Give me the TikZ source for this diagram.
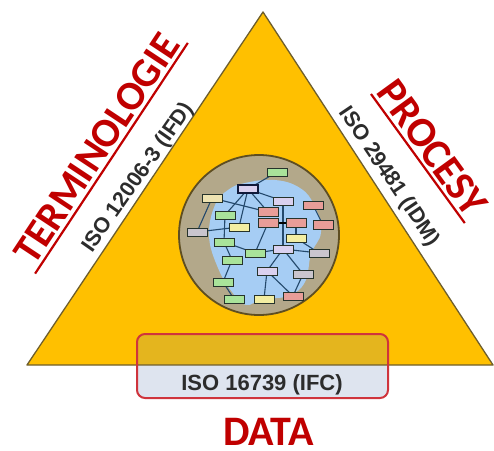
\documentclass[tikz,border=0pt]{standalone}
\usepackage{fontspec}
\newfontfamily\calib{Carlito}
\newfontfamily\arialf{Liberation Sans}
\definecolor{gold}{HTML}{FFC000}
\definecolor{goldd}{HTML}{E4B51E}
\definecolor{barblue}{HTML}{DEE4EF}
\definecolor{tborder}{HTML}{6E5E2C}
\definecolor{redbox}{HTML}{CF343C}
\definecolor{redt}{HTML}{C00000}
\definecolor{isot}{HTML}{2C2C2C}
\definecolor{disctan}{HTML}{B3A88A}
\definecolor{discline}{HTML}{5E4E22}
\definecolor{blobc}{HTML}{A6CDF4}
\definecolor{linkc}{HTML}{24496C}
\definecolor{boxline}{HTML}{26332B}
\definecolor{cgreen}{HTML}{A9E39A}
\definecolor{cyellow}{HTML}{F3EEA2}
\definecolor{ccream}{HTML}{EEE3B2}
\definecolor{clav}{HTML}{DAD1EF}
\definecolor{cred}{HTML}{E89D98}
\definecolor{cgray}{HTML}{C9C5CD}
\definecolor{cnavy}{HTML}{111A3A}
\begin{document}
\begin{tikzpicture}[x=1pt,y={(0pt,-1pt)},
  box/.style={draw=boxline, line width=0.9pt, minimum width=20pt, minimum height=8pt, inner sep=0pt, outer sep=0pt},
  link/.style={draw=linkc, line width=1.1pt},
  bigred/.style={font=\calib\bfseries\fontsize{42}{42}\selectfont, text=redt, anchor=base},
  isolabel/.style={font=\arialf\bfseries\fontsize{22}{22}\selectfont, text=isot, anchor=base, inner sep=0pt},
  uline/.style={draw=redt, line width=2.2pt}]
\useasboundingbox (0,0) rectangle (494,450);
\fill[white] (0,0) rectangle (494,450);
\coordinate (tl) at (27,365);
\coordinate (tt) at (263,12);
\coordinate (tr) at (493,365);
\fill[gold] (tl) -- (tt) -- (tr) -- cycle;
% IFC bar
\fill[barblue, rounded corners=8pt] (137,334) rectangle (388,398);
\begin{scope}
\clip[rounded corners=8pt] (137,334) rectangle (388,398);
\fill[goldd] (137,334) rectangle (388,365);
\end{scope}
\draw[tborder, line width=1.3pt, line join=round] (tl) -- (tt) -- (tr) -- cycle;
\draw[redbox, line width=2pt, rounded corners=8pt] (137,334) rectangle (388,398);
% disc
\node[circle, draw=discline, fill=disctan, line width=1.8pt, minimum size=160pt, inner sep=0pt] (disc) at (259,235) {};
\fill[blobc] plot[smooth cycle, tension=0.7] coordinates {(245,183) (275,180) (300,188) (314,205) (321,232) (311,254) (305,282) (288,296) (262,299) (246,305) (232,292) (218,268) (209,236) (215,205) (228,190)};
% boxes (positions)
\coordinate (p1) at (277,172);
\coordinate (p2) at (248,189);
\coordinate (p3) at (212,198);
\coordinate (p4) at (283,201);
\coordinate (p5) at (313,205);
\coordinate (p6) at (268,212);
\coordinate (p7) at (225,215);
\coordinate (p8) at (268,223);
\coordinate (p9) at (296,223);
\coordinate (p10) at (323,225);
\coordinate (p11) at (239,227);
\coordinate (p12) at (197,232);
\coordinate (p13) at (296,238);
\coordinate (p14) at (224,242);
\coordinate (p15) at (255,253);
\coordinate (p16) at (283,249);
\coordinate (p17) at (319,253);
\coordinate (p18) at (232,260);
\coordinate (p19) at (267,271);
\coordinate (p20) at (303,274);
\coordinate (p21) at (223,282);
\coordinate (p22) at (234,299);
\coordinate (p23) at (264,299);
\coordinate (p24) at (293,296);
% links
\draw[link] (p2) -- (p1);
\draw[link] (p2) -- (p7);
\draw[link] (p2) -- (p11);
\draw[link] (p2) -- (p4);
\draw[link] (p2) -- (p6);
\draw[link] (p3) -- (p6);
\draw[link] (p3) -- (p12);
\draw[link] (p12) -- (p11);
\draw[link] (p7) -- (p14);
\draw[link] (p14) -- (p18);
\draw[link] (p18) -- (p21);
\draw[link] (p21) -- (p22);
\draw[link] (p4) -- (p16);
\draw[link] (p5) -- (p10);
\draw[link] (p8) -- (p15);
\draw[link] (p14) -- (p15);
\draw[link] (p15) -- (p16);
\draw[link] (p16) -- (p17);
\draw[link] (p16) -- (p19);
\draw[link] (p16) -- (p20);
\draw[link] (p19) -- (p23);
\draw[link] (p19) -- (p24);
\draw[link] (p20) -- (p24);
\draw[link] (p9) -- (p13);
\draw[link] (p13) -- (p17);
\draw[line width=1.6pt, black] (p8) -- (p9);
% boxes
\node[box, fill=cgreen] (b1) at (p1) {};
\node[box, fill=clav, draw=cnavy, line width=2pt] (b2) at (p2) {};
\node[box, fill=ccream] (b3) at (p3) {};
\node[box, fill=clav] (b4) at (p4) {};
\node[box, fill=cred] (b5) at (p5) {};
\node[box, fill=cred, minimum height=9pt] (b6) at (p6) {};
\node[box, fill=cgreen] (b7) at (p7) {};
\node[box, fill=cred, minimum height=9pt] (b8) at (p8) {};
\node[box, fill=cred, minimum height=9pt] (b9) at (p9) {};
\node[box, fill=cred, minimum height=9pt] (b10) at (p10) {};
\node[box, fill=cyellow] (b11) at (p11) {};
\node[box, fill=cgray] (b12) at (p12) {};
\node[box, fill=cyellow] (b13) at (p13) {};
\node[box, fill=cgreen] (b14) at (p14) {};
\node[box, fill=cgreen] (b15) at (p15) {};
\node[box, fill=clav] (b16) at (p16) {};
\node[box, fill=cgray] (b17) at (p17) {};
\node[box, fill=cgreen] (b18) at (p18) {};
\node[box, fill=clav] (b19) at (p19) {};
\node[box, fill=cgray] (b20) at (p20) {};
\node[box, fill=cgreen] (b21) at (p21) {};
\node[box, fill=cgreen] (b22) at (p22) {};
\node[box, fill=cyellow] (b23) at (p23) {};
\node[box, fill=cred] (b24) at (p24) {};
% labels
\node[bigred, font=\calib\bfseries\fontsize{41}{41}\selectfont, rotate=56.5, inner xsep=5pt, inner ysep=4pt] (term) at (107.7,155.8) {TERMINOLOGIE};
\draw[uline] (term.south west) -- (term.south east);
\node[bigred, rotate=-54, inner xsep=1pt, inner ysep=4pt] (proc) at (421.5,155.9) {PROCESY};
\draw[uline] (proc.south west) -- (proc.south east);
\node[bigred] (data) at (268.5,445) {DATA};
\node[isolabel, rotate=55, font=\arialf\bfseries\fontsize{21.5}{21.5}\selectfont] (ifd) at (143,181) {ISO 12006-3 (IFD)};
\node[isolabel, rotate=-56, font=\arialf\bfseries\fontsize{21.5}{21.5}\selectfont] (idm) at (384.4,179.9) {ISO 29481 (IDM)};
\node[isolabel] (ifc) at (262,390) {ISO 16739 (IFC)};
\end{tikzpicture}
\end{document}
